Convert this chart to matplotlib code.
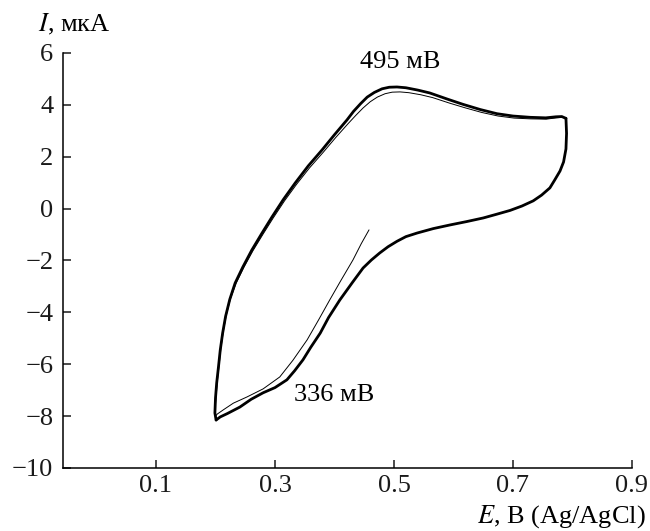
import matplotlib
matplotlib.use("Agg")
import matplotlib.pyplot as plt

plt.rcParams["font.family"] = ["Liberation Serif", "DejaVu Serif"]
plt.rcParams["mathtext.fontset"] = "stix"
plt.rcParams["axes.unicode_minus"] = True

# Steady-state cycle: anodic sweep 0.2 -> 0.79 V
E_anodic = [0.201, 0.199, 0.200, 0.202, 0.205, 0.208, 0.212, 0.217, 0.224, 0.233,
            0.246, 0.261, 0.278, 0.295, 0.314, 0.334, 0.356, 0.379, 0.400, 0.421,
            0.432, 0.444, 0.455, 0.467, 0.480, 0.492, 0.505, 0.520, 0.540, 0.560,
            0.590, 0.616, 0.645, 0.673, 0.700, 0.729, 0.755, 0.772, 0.782, 0.789]
I_anodic = [-8.15, -7.88, -7.30, -6.72, -6.10, -5.45, -4.80, -4.15, -3.50, -2.87,
            -2.25, -1.60, -0.95, -0.32, 0.35, 0.99, 1.65, 2.26, 2.85, 3.42,
            3.75, 4.05, 4.30, 4.48, 4.62, 4.68, 4.69, 4.66, 4.57, 4.46,
            4.22, 4.02, 3.82, 3.66, 3.57, 3.52, 3.50, 3.54, 3.55, 3.48]

# Steady-state cycle: cathodic sweep 0.79 -> 0.2 V
E_cathodic = [0.789, 0.790, 0.789, 0.785, 0.779, 0.770, 0.762, 0.748, 0.734, 0.715,
              0.695, 0.672, 0.650, 0.622, 0.594, 0.566, 0.539, 0.520, 0.505, 0.490,
              0.476, 0.462, 0.448, 0.430, 0.409, 0.390, 0.376, 0.360, 0.347, 0.333,
              0.320, 0.300, 0.280, 0.260, 0.241, 0.220, 0.208, 0.201]
I_cathodic = [3.48, 2.90, 2.30, 1.80, 1.45, 1.10, 0.80, 0.52, 0.30, 0.10,
              -0.07, -0.22, -0.36, -0.50, -0.63, -0.77, -0.94, -1.08, -1.26, -1.47,
              -1.71, -1.98, -2.29, -2.85, -3.52, -4.20, -4.80, -5.35, -5.83, -6.25,
              -6.60, -6.90, -7.10, -7.35, -7.65, -7.90, -8.03, -8.15]

# First scan: starts near 0.46 V going cathodic, then the first anodic sweep
E_first = [0.458, 0.445, 0.431, 0.410, 0.392, 0.373, 0.354, 0.330, 0.308, 0.280,
           0.253, 0.230, 0.213, 0.203, 0.200, 0.199, 0.201, 0.203, 0.206, 0.209,
           0.213, 0.218, 0.225, 0.235, 0.248, 0.263, 0.280, 0.297, 0.316, 0.336,
           0.358, 0.381, 0.402, 0.423, 0.436, 0.448, 0.460, 0.472, 0.485, 0.497,
           0.510, 0.525, 0.545, 0.565, 0.593, 0.619, 0.647, 0.675, 0.702, 0.730,
           0.756, 0.773, 0.783, 0.789]
I_first = [-0.82, -1.35, -1.98, -2.80, -3.52, -4.30, -5.06, -5.85, -6.49, -6.95,
           -7.26, -7.50, -7.76, -7.92, -8.00, -7.80, -7.25, -6.68, -6.05, -5.40,
           -4.75, -4.12, -3.48, -2.86, -2.25, -1.62, -0.98, -0.36, 0.30, 0.93,
           1.57, 2.17, 2.74, 3.28, 3.60, 3.88, 4.12, 4.30, 4.43, 4.49,
           4.50, 4.47, 4.39, 4.28, 4.07, 3.89, 3.71, 3.57, 3.49, 3.46,
           3.45, 3.50, 3.52, 3.48]

peak_labels = ["495 мВ", "336 мВ"]

fig = plt.figure(figsize=(6.5, 5.31), dpi=100)
ax = fig.add_axes([63 / 650, 1 - 468 / 531, (632 - 63) / 650, (468 - 53) / 531])

line_kw = dict(color="black", solid_joinstyle="round", solid_capstyle="round")
ax.plot(E_first, I_first, lw=0.7, **line_kw)
ax.plot(E_anodic, I_anodic, lw=2.0, **line_kw)
ax.plot(E_cathodic, I_cathodic, lw=2.0, **line_kw)

ax.set_xlim(-0.0563, 0.9)
ax.set_ylim(-10, 6)
ax.set_xticks([0.1, 0.3, 0.5, 0.7, 0.9])
ax.set_xticklabels(["0.1", "0.3", "0.5", "0.7", "0.9"])
ax.set_yticks([-10, -8, -6, -4, -2, 0, 2, 4, 6])

for s in ("top", "right"):
    ax.spines[s].set_visible(False)
for s in ("left", "bottom"):
    ax.spines[s].set_linewidth(1.1)
ax.tick_params(direction="in", length=6, width=1.1, labelsize=19,
               colors="#1a1a1a")
ax.tick_params(axis="x", pad=5)
ax.tick_params(axis="y", pad=7)

ax.text(0.51, 5.65, peak_labels[0], fontsize=19, ha="center", va="center")
ax.text(0.40, -7.18, peak_labels[1], fontsize=19, ha="center", va="center")

fig.text(38 / 650, 1 - 31 / 531, "$I$, мкА", fontsize=19, ha="left",
         va="baseline")
fig.text(646 / 650, 1 - 523 / 531, "$E$, В (Ag/AgCl)", fontsize=19,
         ha="right", va="baseline")

fig.savefig("out.png", dpi=100)
